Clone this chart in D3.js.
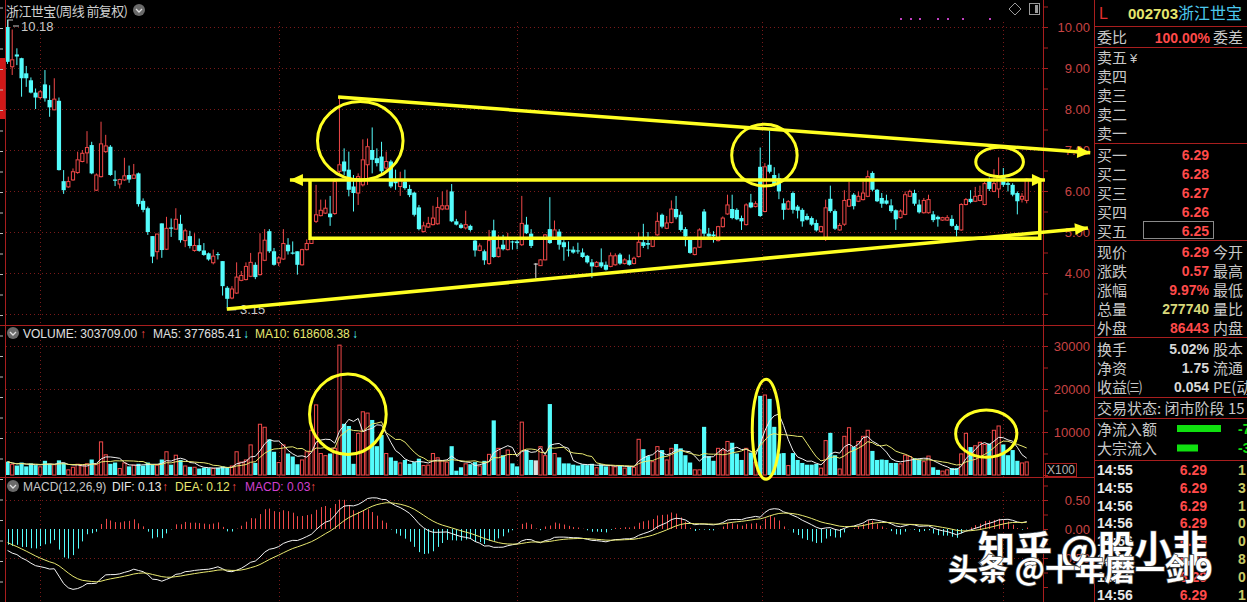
<!DOCTYPE html>
<html><head><meta charset="utf-8">
<script src="https://cdn.jsdelivr.net/npm/d3@7"></script>
<style>
html,body{margin:0;padding:0;background:#000;overflow:hidden;}
svg{display:block;}
</style></head><body>
<svg id="c" width="1247" height="602"></svg>
<script>
// ---------------- data (weekly, 前复权) ----------------
const opens = [
10.0,9.03,9.33,9.24,8.87,8.7,8.4,8.28,8.6,8.22,
7.98,8.2,6.24,6.1,6.27,6.45,6.72,6.93,7.12,6.02,
6.35,6.96,7.08,6.28,6.17,6.27,6.39,6.31,6.43,5.76,
5.58,4.9,4.52,5.21,4.58,5.11,5.07,5.2,4.79,4.9,
4.55,4.68,4.55,4.48,4.25,4.46,4.29,3.64,3.39,3.51,
3.82,3.84,3.92,4.2,3.96,4.31,5.02,4.53,4.25,4.34,
4.69,4.5,4.53,4.2,4.57,4.72,5.26,5.4,5.46,5.45,
5.45,6.48,6.72,6.52,6.11,5.95,6.15,6.64,7.0,6.8,
6.84,6.56,6.72,6.27,6.11,6.23,6.05,5.96,5.6,5.01,
5.12,5.18,5.2,5.56,5.56,5.99,5.26,5.18,5.1,5.15,
4.79,4.55,4.53,4.23,5.04,4.4,4.69,4.57,4.77,4.77,
4.69,5.18,4.96,4.23,4.18,4.32,5.07,4.85,5.01,4.75,
4.57,4.57,4.55,4.5,4.42,4.26,4.16,4.26,4.2,4.16,
4.2,4.45,4.23,4.31,4.23,4.4,4.75,4.73,4.65,4.93,
5.42,5.09,5.23,5.56,5.42,5.07,4.85,4.45,4.63,5.5,
4.96,4.94,4.79,5.13,5.44,5.56,5.54,5.34,5.18,5.72,
5.62,6.59,5.5,6.64,6.39,6.31,5.7,5.56,5.95,5.62,
5.54,5.39,5.34,5.22,5.01,4.86,5.81,5.51,5.05,5.19,
5.63,5.91,5.75,5.79,5.87,6.44,6.03,5.83,5.77,5.65,
5.53,5.35,5.43,5.87,5.95,5.67,5.47,5.47,5.43,5.37,
5.29,5.29,5.32,5.15,5.05,5.67,5.81,5.75,5.77,5.67,
6.27,5.99,6.05,6.35,6.19,6.15,5.95,5.8,5.77];
const highs = [
10.18,9.94,9.48,9.25,9.05,8.77,8.5,8.46,8.95,8.58,
8.75,8.28,6.51,6.35,6.55,6.96,7.0,7.46,7.2,6.43,
7.69,7.37,7.12,6.5,6.3,6.81,6.62,6.66,6.45,5.82,
5.62,4.9,4.95,5.21,5.37,5.33,5.58,5.42,5.08,5.03,
4.97,4.84,4.73,4.5,4.57,4.51,4.29,3.68,3.68,4.26,
4.05,4.26,4.49,4.26,4.97,5.07,5.07,4.61,4.41,5.07,
4.85,4.77,4.53,4.59,4.82,4.88,6.15,5.79,5.79,5.88,
6.31,8.3,7.04,6.96,6.39,6.43,7.26,7.28,7.55,7.04,
7.2,6.96,6.76,6.52,6.47,6.52,6.15,5.98,5.66,5.25,
5.37,5.64,5.85,5.99,6.03,6.17,5.32,5.22,5.52,5.18,
4.85,4.72,4.57,5.05,5.3,4.93,4.93,4.98,4.79,4.82,
5.88,5.37,5.07,4.24,4.34,4.95,5.85,5.28,5.07,4.8,
4.77,4.65,4.74,4.6,4.44,4.34,4.29,4.6,4.28,4.5,
4.48,4.49,4.36,4.45,4.4,4.99,5.2,5.0,4.89,5.48,
5.45,5.39,5.77,5.88,5.5,5.12,4.88,4.63,5.09,5.56,
5.1,5.02,5.15,5.38,5.91,5.91,5.58,5.4,5.7,5.93,
5.75,7.06,6.68,7.47,6.58,6.43,5.82,5.78,5.99,5.66,
5.58,5.45,5.38,5.3,5.15,5.79,6.13,5.55,5.22,6.02,
6.23,5.95,5.99,6.23,6.5,6.48,6.05,5.95,5.91,5.8,
5.55,5.55,5.99,6.03,6.03,5.79,5.83,5.91,5.51,5.4,
5.37,5.41,5.41,5.19,5.7,5.83,6.02,6.1,6.13,6.23,
6.33,6.53,6.82,6.56,6.29,6.19,5.99,5.95,6.31];
const lows = [
9.1,8.83,9.07,8.3,8.54,8.38,8.0,8.23,8.18,7.81,
7.97,6.5,5.93,6.08,6.25,6.42,6.7,6.67,6.41,6.0,
6.33,6.93,6.37,6.12,6.06,6.25,6.2,6.3,5.62,5.48,
4.93,4.24,4.33,4.37,4.56,4.88,5.07,4.74,4.63,4.6,
4.52,4.52,4.42,4.3,4.21,4.33,3.45,3.15,3.36,3.49,
3.8,3.82,3.9,3.85,3.94,4.29,4.49,4.18,4.17,4.32,
4.45,4.45,3.96,4.18,4.55,4.72,5.22,5.38,5.44,5.15,
5.42,6.44,6.39,5.87,5.5,5.66,6.11,6.15,6.43,6.6,
6.4,6.52,6.07,6.03,5.88,6.03,5.85,5.38,5.04,4.99,
5.1,5.16,5.18,5.53,5.55,5.24,5.16,5.08,5.06,5.01,
4.4,4.53,4.2,4.2,4.37,4.38,4.55,4.55,4.57,4.58,
4.66,4.95,4.61,3.88,4.17,4.31,4.71,4.83,4.57,4.3,
4.4,4.47,4.47,4.37,4.23,3.88,4.14,4.12,4.06,4.14,
4.18,4.2,4.21,4.18,4.21,4.38,4.61,4.58,4.63,4.91,
5.09,5.07,5.21,5.31,5.01,4.65,4.47,4.43,4.61,4.89,
4.85,4.74,4.77,5.11,5.42,5.31,5.29,5.05,5.16,5.58,
5.6,5.37,5.48,6.43,6.11,5.8,5.3,5.54,5.45,5.33,
5.13,5.28,5.15,5.01,4.98,4.78,5.47,5.05,5.03,5.15,
5.61,5.55,5.73,5.77,5.85,5.99,5.73,5.59,5.67,5.47,
5.05,5.33,5.41,5.86,5.64,5.45,5.45,5.45,5.24,5.13,
5.27,5.27,5.13,4.89,5.03,5.65,5.7,5.73,5.75,5.65,
6.0,5.97,5.83,6.1,5.99,5.87,5.43,5.72,5.7];
const closes = [
9.15,9.2,9.28,8.75,8.75,8.4,8.28,8.42,8.26,8.04,
8.24,6.51,6.02,6.23,6.47,6.76,6.92,7.06,6.43,6.39,
7.15,7.1,6.39,6.25,6.28,6.37,6.28,6.39,5.68,5.54,
5.0,4.4,4.95,4.56,5.09,5.08,5.31,4.8,5.03,4.66,
4.67,4.54,4.44,4.33,4.41,4.44,3.68,3.37,3.61,3.9,
3.94,4.16,4.26,3.9,4.49,4.8,4.53,4.2,4.37,4.72,
4.53,4.47,4.2,4.57,4.72,4.83,5.42,5.53,5.58,5.36,
6.23,6.64,6.48,6.03,5.95,6.35,6.76,7.08,6.76,6.68,
6.48,6.72,6.11,6.19,6.27,6.07,5.9,5.42,5.07,5.15,
5.21,5.34,5.6,5.64,5.64,5.26,5.18,5.1,5.18,5.05,
4.55,4.66,4.31,4.79,4.39,4.61,4.58,4.83,4.75,4.73,
5.21,4.97,4.66,4.23,4.32,4.93,4.73,5.05,4.69,4.63,
4.55,4.5,4.53,4.39,4.26,4.16,4.26,4.16,4.08,4.42,
4.42,4.23,4.32,4.2,4.36,4.75,4.66,4.69,4.85,5.26,
5.13,5.22,5.56,5.36,5.05,4.89,4.49,4.61,5.05,4.96,
4.89,4.9,5.13,5.34,5.66,5.34,5.31,5.26,5.66,5.6,
5.69,5.39,6.59,6.47,6.17,5.99,5.54,5.74,5.54,5.52,
5.26,5.3,5.18,5.04,5.13,5.59,5.51,5.08,5.16,5.77,
5.79,5.63,5.87,5.95,6.35,6.03,5.75,5.69,5.69,5.51,
5.31,5.51,5.91,5.99,5.69,5.48,5.77,5.79,5.29,5.31,
5.35,5.35,5.15,5.05,5.67,5.79,5.73,5.87,5.89,6.18,
6.05,6.18,6.35,6.15,6.15,5.91,5.75,5.87,6.29];
// volume in units of 100 shares (axis "X100")
const volumes = [
3100,2500,2200,2900,2000,2700,2300,1900,3300,2600,
2400,3400,2800,1200,1800,2500,2300,2600,3600,2400,
7700,4700,2600,2900,1500,2800,2000,2300,2600,2200,
2900,2500,2300,3600,5400,2400,4600,3500,2100,1900,
1800,1500,1700,1600,1500,1700,2000,1800,2100,5400,
3000,3500,7000,2800,11800,11100,8300,5400,2900,7000,
5000,4300,2500,3500,5400,10400,16300,5000,4500,5000,
6200,30200,11900,11400,2600,9700,14700,14400,12800,6700,
9300,5000,4100,3300,2800,3500,2600,3000,3800,2200,
2300,5000,4000,3300,3000,6700,1000,1800,2600,2500,
3000,2100,3300,4800,12700,6200,4600,5800,2700,2000,
12300,5800,3500,3400,6600,4500,16500,5000,4100,2700,
2700,2400,2200,2500,2300,2600,1700,2500,2000,2200,
1900,2300,1600,2000,1800,8300,6000,4400,3100,6600,
5800,3500,6200,7200,6200,4600,2900,1200,1200,11200,
4400,3300,6200,5800,7800,7500,5000,3500,6200,5200,
3000,18400,18600,17700,11200,5000,5100,2200,5100,3500,
2800,2400,2400,2600,1600,8000,9800,4600,1400,9000,
11000,6500,7800,9000,10400,5600,3500,3600,3500,2800,
2800,2600,4600,4300,3900,3600,3100,4400,1800,1200,
900,1200,1600,1600,4900,9700,6500,6800,7600,7100,
7300,10400,11400,7100,4600,5800,3300,2800,3037];

const priceTicks = [10,9,8,7,6,5,4];
const volTicks = [30000,20000,10000];
const macdTicks = [0.5,0,-0.5];
const yearLines = [7,58,109,161.3,213];   // vertical separators (week index)

// hand-drawn annotations, in (week index, price) coordinates
const upperTrend = [[70.7,8.29],[231.6,6.93]];
const lowerTrend = [[46.9,3.12],[231.1,5.10]];
const boxTopLine = [[60.4,6.27],[221.9,6.27]];
const box = {i0:64.7, i1:220.8, top:6.27, bottom:4.85};
const priceEllipses = [[66.3,84.6,8.18,6.27],[154.9,168.9,7.63,6.12],[207.1,217.3,7.07,6.35]];
const volEllipses = [[64.6,81.0,23490,4790],[159.3,165.2,22260,-1000],[202.8,215.9,15120,4120]];

// quote panel
const sellLabels = ["卖五","卖四","卖三","卖二","卖一"];
const buyLabels = ["买一","买二","买三","买四","买五"];
const buyPrices = ["6.29","6.28","6.27","6.26","6.25"];
const quoteRows = [["现价","6.29","今开","#ff4a4a"],["涨跌","0.57","最高","#ff4a4a"],["涨幅","9.97%","最低","#ff4a4a"],["总量","277740","量比","#d8d87a"],["外盘","86443","内盘","#ff4a4a"]];
const statRows = [["换手","5.02%","股本"],["净资","1.75","流通"],["收益㈢","0.054","PE(动"]];
const flowRows = [["净流入额",44,"-7"],["大宗流入",21,"-3"]];
const tickTimes = ["14:55","14:55","14:56","14:56","14:56","14:56","14:56","14:56"];
const tickPrices = ["6.29","6.29","6.29","6.29","6.29","6.29","6.29","6.29"];
const tickVols = ["1","3","1","0","0","8","0","1"];

// ---------------- drawing ----------------
const svg = d3.select('#c');
const N = closes.length;
const RED = '#f04848', CYAN = '#54fcfc', BORDER = '#a81e1e', GRID = '#7a1a1a', AXIS = '#c84444', YEL = '#ffff22';
const NUM = '"Liberation Sans", Arial, sans-serif', CJK = '"Noto Sans CJK SC", sans-serif';
svg.append('rect').attr('width',1247).attr('height',602).attr('fill','#000');

const xi = d3.scaleLinear().domain([0,N-1]).range([7.54, 7.54+(N-1)*4.675]);
const y = d3.scaleLinear().domain([4,10]).range([273,27]);
const yv = d3.scaleLinear().domain([0,30000]).range([475,346]);
const ym = d3.scaleLinear().domain([0,0.5]).range([529,500]);
const BW = 3.2;

const defs = svg.append('defs');
defs.append('clipPath').attr('id','cm').append('rect').attr('x',6).attr('y',18).attr('width',1037).attr('height',307);
defs.append('clipPath').attr('id','cv').append('rect').attr('x',6).attr('y',340).attr('width',1037).attr('height',137);
defs.append('clipPath').attr('id','cd').append('rect').attr('x',6).attr('y',492).attr('width',1037).attr('height',110);

// grid
const g = svg.append('g');
priceTicks.concat([3]).forEach(p=>g.append('line').attr('x1',6).attr('x2',1043).attr('y1',Math.round(y(p))+0.5).attr('y2',Math.round(y(p))+0.5).attr('stroke',GRID).attr('stroke-dasharray','1,3'));
volTicks.forEach(v=>g.append('line').attr('x1',6).attr('x2',1043).attr('y1',Math.round(yv(v))+0.5).attr('y2',Math.round(yv(v))+0.5).attr('stroke',GRID).attr('stroke-dasharray','1,3'));
[0.5,-0.5].forEach(v=>g.append('line').attr('x1',6).attr('x2',1043).attr('y1',Math.round(ym(v))+0.5).attr('y2',Math.round(ym(v))+0.5).attr('stroke',GRID).attr('stroke-dasharray','1,3'));
yearLines.forEach(i=>{
  [[22,325],[340,477],[492,602]].forEach(([a,b])=>g.append('line').attr('x1',Math.round(xi(i))+0.5).attr('x2',Math.round(xi(i))+0.5).attr('y1',a).attr('y2',b).attr('stroke',GRID).attr('stroke-dasharray','1,3'));
});

// candles
const cg = svg.append('g').attr('clip-path','url(#cm)');
d3.range(N).forEach(i=>{
  const o=opens[i], c=closes[i], h=highs[i], l=lows[i];
  const X = xi(i);
  const up = c>o, flat = c===o;
  const col = flat ? '#e0e0e0' : (up?RED:CYAN);
  const top = y(Math.max(o,c)), bot = y(Math.min(o,c));
  if(up){
    cg.append('line').attr('x1',X).attr('x2',X).attr('y1',y(h)).attr('y2',top).attr('stroke',col);
    cg.append('line').attr('x1',X).attr('x2',X).attr('y1',bot).attr('y2',y(l)).attr('stroke',col);
    cg.append('rect').attr('x',X-BW/2).attr('y',top).attr('width',BW).attr('height',Math.max(1,bot-top)).attr('fill','#000').attr('stroke',col).attr('stroke-width',1);
  } else {
    cg.append('line').attr('x1',X).attr('x2',X).attr('y1',y(h)).attr('y2',y(l)).attr('stroke',col);
    cg.append('rect').attr('x',X-BW/2-0.5).attr('y',top).attr('width',BW+1).attr('height',Math.max(1,bot-top)).attr('fill',col);
  }
});

// volume
const vg = svg.append('g').attr('clip-path','url(#cv)');
d3.range(N).forEach(i=>{
  const X = xi(i), up = closes[i]>opens[i], flat = closes[i]===opens[i];
  const col = flat ? '#e0e0e0' : (up?RED:CYAN);
  const t = yv(volumes[i]);
  if(up) vg.append('rect').attr('x',X-BW/2).attr('y',t).attr('width',BW).attr('height',yv(0)-t).attr('fill','#000').attr('stroke',col);
  else vg.append('rect').attr('x',X-BW/2-0.5).attr('y',t).attr('width',BW+1).attr('height',yv(0)-t).attr('fill',col);
});
const maOf = n => volumes.map((v,i)=>d3.mean(volumes.slice(Math.max(0,i-n+1),i+1)));
const ma5 = maOf(5), ma10 = maOf(10);
const vline = d3.line().x((d,i)=>xi(i)).y(d=>yv(d));
vg.append('path').attr('d',vline(ma5)).attr('fill','none').attr('stroke','#f0f0f0').attr('stroke-width',1);
vg.append('path').attr('d',vline(ma10)).attr('fill','none').attr('stroke','#e8e870').attr('stroke-width',1);

// MACD (12,26,9) from closes; EMA state carried in from the weeks before the visible window
let e12=10.3, e26=10.6, dea=-0.2;
const difS=[], deaS=[], histS=[];
closes.forEach(c=>{ e12=(2*c+11*e12)/13; e26=(2*c+25*e26)/27; const d=e12-e26; dea=(2*d+8*dea)/10; difS.push(d); deaS.push(dea); histS.push(2*(d-dea)); });
const mg = svg.append('g').attr('clip-path','url(#cd)');
histS.forEach((h,i)=>mg.append('line').attr('x1',Math.round(xi(i))+0.5).attr('x2',Math.round(xi(i))+0.5).attr('y1',ym(0)).attr('y2',ym(h)).attr('stroke',h>=0?RED:CYAN));
const mline = d3.line().x((d,i)=>xi(i)).y(d=>ym(d));
mg.append('path').attr('d',mline(difS)).attr('fill','none').attr('stroke','#f4f4f4');
mg.append('path').attr('d',mline(deaS)).attr('fill','none').attr('stroke','#e8e870');

// borders
const b = svg.append('g');
[[5.5,0,5.5,602],[1043.5,0,1043.5,602],[1094.5,0,1094.5,602],[0,325.5,1094,325.5],[0,477.5,1094,477.5]].forEach(a=>
  b.append('line').attr('x1',a[0]).attr('y1',a[1]).attr('x2',a[2]).attr('y2',a[3]).attr('stroke',BORDER));
b.append('rect').attr('x',0).attr('y',58).attr('width',5).attr('height',61).attr('fill','#d01818');
d3.range(0,602,20.5).forEach(v=>b.append('line').attr('x1',0).attr('x2',3).attr('y1',v+8).attr('y2',v+8).attr('stroke','#bbbbbb'));

// right axes
const axG = svg.append('g');
const pa = axG.append('g').attr('transform','translate(1090,0)').call(d3.axisLeft(y).tickValues(priceTicks).tickFormat(d3.format('.2f')).tickSize(0).tickPadding(0));
const va = axG.append('g').attr('transform','translate(1090,0)').call(d3.axisLeft(yv).tickValues(volTicks).tickFormat(d3.format('d')).tickSize(0).tickPadding(0));
const ma = axG.append('g').attr('transform','translate(1090,0)').call(d3.axisLeft(ym).tickValues(macdTicks).tickFormat(d3.format('.2f')).tickSize(0).tickPadding(0));
[pa,va,ma].forEach(a=>{a.select('.domain').remove(); a.selectAll('text').attr('fill',AXIS).attr('font-size',13).attr('font-family',NUM);});
const mt = axG.append('g').attr('transform','translate(1043,0)').call(d3.axisRight(y).tickValues(d3.range(3,10.6,0.5)).tickSize(5).tickFormat(''));
const mt2 = axG.append('g').attr('transform','translate(1043,0)').call(d3.axisRight(yv).tickValues(d3.range(0,32000,5000)).tickSize(5).tickFormat(''));
const mt3 = axG.append('g').attr('transform','translate(1043,0)').call(d3.axisRight(ym).tickValues(d3.range(-1,0.76,0.25)).tickSize(5).tickFormat(''));
[mt,mt2,mt3].forEach(a=>{a.select('.domain').remove(); a.selectAll('line').attr('stroke',BORDER);});
axG.append('rect').attr('x',1045.5).attr('y',463.5).attr('width',31).attr('height',13).attr('fill','none').attr('stroke',BORDER);
axG.append('text').attr('x',1047).attr('y',474).text('X100').attr('fill','#b0b0b0').attr('font-size',12).attr('font-family',NUM);

// titles
const T = svg.append('g');
T.append('text').attr('x',6).attr('y',16).text('浙江世宝(周线 前复权)').attr('fill','#d0d0d0').attr('font-size',13).attr('textLength',122).attr('font-family',CJK);
function icon(cx,cy){ T.append('circle').attr('cx',cx).attr('cy',cy).attr('r',6).attr('fill','#6a6a6a');
  T.append('path').attr('d',`M${cx-3},${cy-1} L${cx},${cy+2} L${cx+3},${cy-1}`).attr('fill','none').attr('stroke','#e0e0e0').attr('stroke-width',1.3);}
icon(139,10); icon(13,333); icon(13,486);
T.append('path').attr('d','M1015,3 L1021,9 L1015,15 L1009,9 Z').attr('fill','none').attr('stroke','#9a9a9a');
T.append('rect').attr('x',1029.5).attr('y',3.5).attr('width',10).attr('height',11).attr('fill','none').attr('stroke','#9a9a9a');
T.append('rect').attr('x',1035).attr('y',5).attr('width',3).attr('height',8).attr('fill','#9a9a9a');
[900,910,919,937,947,962,989].forEach(xx=>T.append('rect').attr('x',xx).attr('y',18).attr('width',2).attr('height',2).attr('fill','#c040c0'));
T.append('path').attr('d','M8,27 L8,20 L13,20 M13,26 L19,26').attr('fill','none').attr('stroke','#c8c8c8');
T.append('text').attr('x',21).attr('y',31).text('10.18').attr('fill','#c8c8c8').attr('font-size',13).attr('font-family',NUM);
T.append('line').attr('x1',xi(47)).attr('x2',xi(47)+9).attr('y1',y(3.15)+2).attr('y2',y(3.15)+2).attr('stroke','#c8c8c8');
T.append('text').attr('x',240).attr('y',314).text('3.15').attr('fill','#c8c8c8').attr('font-size',13).attr('font-family',NUM);

function header(yb, parts){ const t=T.append('text').attr('y',yb).attr('font-size',12).attr('font-family',NUM);
  parts.forEach(p=>t.append('tspan').attr('x',p[0]).attr('fill',p[2]).text(p[1])); }
header(338,[[23,'VOLUME: 303709.00','#e0e0e0'],[140,'↑',RED],[153,'MA5: 377685.41','#e0e0e0'],[243,'↓',CYAN],[255,'MA10: 618608.38','#e8e870'],[352,'↓',CYAN]]);
header(491,[[23,'MACD(12,26,9)','#c8c8c8'],[112,'DIF: 0.13','#e8e8e8'],[162,'↑',RED],[175,'DEA: 0.12','#e8e870'],[231,'↑',RED],[245,'MACD: 0.03','#d040d0'],[310,'↑',RED]]);

// annotations
const A = svg.append('g');
const P = d => [xi(d[0]), y(d[1])];
function arrow(p1,p2){
  const [x1,y1]=p1,[x2,y2]=p2, a=Math.atan2(y2-y1,x2-x1), L=13, Wd=6;
  A.append('path').attr('d',`M${x2},${y2} L${x2-L*Math.cos(a)+Wd*Math.sin(a)},${y2-L*Math.sin(a)-Wd*Math.cos(a)} L${x2-L*Math.cos(a)-Wd*Math.sin(a)},${y2-L*Math.sin(a)+Wd*Math.cos(a)} Z`).attr('fill',YEL);
}
function seg(a,bp){ A.append('line').attr('x1',a[0]).attr('y1',a[1]).attr('x2',bp[0]).attr('y2',bp[1]).attr('stroke',YEL).attr('stroke-width',3.5); }
seg(P(upperTrend[0]),P(upperTrend[1])); arrow(P(upperTrend[0]),P(upperTrend[1]));
seg(P(lowerTrend[0]),P(lowerTrend[1])); arrow(P(lowerTrend[0]),P(lowerTrend[1]));
seg(P(boxTopLine[0]),P(boxTopLine[1])); arrow(P(boxTopLine[1]),P(boxTopLine[0])); arrow(P(boxTopLine[0]),P(boxTopLine[1]));
A.append('path').attr('d',`M${xi(box.i0)},${y(box.top)} L${xi(box.i0)},${y(box.bottom)} L${xi(box.i1)},${y(box.bottom)} L${xi(box.i1)},${y(box.top)}`).attr('fill','none').attr('stroke',YEL).attr('stroke-width',3.5);
priceEllipses.forEach(e=>{ const x0=xi(e[0]),x1=xi(e[1]),y0=y(e[2]),y1=y(e[3]);
  A.append('ellipse').attr('cx',(x0+x1)/2).attr('cy',(y0+y1)/2).attr('rx',(x1-x0)/2).attr('ry',(y1-y0)/2).attr('fill','none').attr('stroke',YEL).attr('stroke-width',3); });
volEllipses.forEach(e=>{ const x0=xi(e[0]),x1=xi(e[1]),y0=yv(e[2]),y1=yv(e[3]);
  A.append('ellipse').attr('cx',(x0+x1)/2).attr('cy',(y0+y1)/2).attr('rx',(x1-x0)/2).attr('ry',(y1-y0)/2).attr('fill','none').attr('stroke',YEL).attr('stroke-width',3); });

// quote panel
const Q = svg.append('g');
function t(x,yb,s,o={}){ return Q.append('text').attr('x',x).attr('y',yb).text(s).attr('fill',o.fill||'#c8c8c8').attr('font-size',o.size||15)
  .attr('font-weight',o.weight||'normal').attr('text-anchor',o.anchor||'start').attr('font-family',o.family||CJK); }
[26,47,143,240,337,397,418,460].forEach(v=>Q.append('line').attr('x1',1095).attr('x2',1247).attr('y1',v+0.5).attr('y2',v+0.5).attr('stroke',BORDER));
t(1099,19,'L',{fill:'#e03030',size:16,family:NUM});
t(1128,19,'002703',{fill:'#e6e66e',size:15,weight:'bold',family:NUM});
t(1178,19,'浙江世宝',{fill:'#4cc8ec',size:16});
t(1097,43,'委比'); t(1210,43,'100.00%',{fill:'#ff4a4a',weight:'bold',size:14,anchor:'end',family:NUM}); t(1213,43,'委差');
sellLabels.forEach((s,i)=>t(1097,63+i*18.9,s));
t(1130,63,'¥',{size:13,family:NUM});
buyLabels.forEach((s,i)=>{ t(1097,161+i*19,s); t(1209,160+i*19,buyPrices[i],{fill:'#ff4a4a',weight:'bold',size:14,anchor:'end',family:NUM}); });
Q.append('rect').attr('x',1143.5).attr('y',221.5).attr('width',70).attr('height',17).attr('fill','none').attr('stroke','#8a8a8a');
quoteRows.forEach((r,i)=>{ t(1097,258+i*19,r[0]); t(1209,257+i*19,r[1],{fill:r[3],weight:'bold',size:14,anchor:'end',family:NUM}); t(1213,258+i*19,r[2]); });
statRows.forEach((r,i)=>{ t(1097,355+i*19,r[0]); t(1209,354+i*19,r[1],{fill:'#d8d8d8',weight:'bold',size:14,anchor:'end',family:NUM}); t(1213,355+i*19,r[2]); });
t(1097,414,'交易状态: 闭市阶段 15');
flowRows.forEach((r,i)=>{ t(1097,435+i*19,r[0]);
  Q.append('rect').attr('x',1177).attr('y',425+i*19.5).attr('width',r[1]).attr('height',7).attr('fill','#10e010');
  t(1238,434+i*19,r[2],{fill:'#10e010',weight:'bold',size:14,family:NUM}); });
tickTimes.forEach((s,i)=>{ const yb=475+i*17.8;
  t(1097,yb,s,{fill:'#e8e8e8',weight:'bold',size:14,family:NUM});
  t(1207,yb,tickPrices[i],{fill:'#ff4a4a',weight:'bold',size:14,anchor:'end',family:NUM});
  t(1238,yb,tickVols[i],{fill:'#c8c864',weight:'bold',size:14,family:NUM}); });

// watermark
const Wm = svg.append('g').attr('font-family',CJK).attr('font-weight','bold');
Wm.append('text').attr('x',978).attr('y',563).text('知乎 @股小韭').attr('font-size',37).attr('fill','#ffffff').attr('stroke','#444').attr('stroke-width',1.5).attr('paint-order','stroke');
Wm.append('text').attr('x',948).attr('y',580).text('头条 @十年磨一剑9').attr('font-size',30).attr('fill','#ffffff').attr('stroke','#444').attr('stroke-width',1.5).attr('paint-order','stroke');
</script>
</body></html>
